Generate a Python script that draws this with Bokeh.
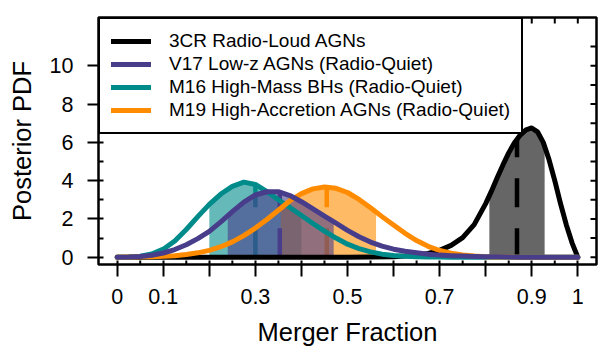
import numpy as np
from bokeh.plotting import figure
from bokeh.models import Range1d, FixedTicker, Legend, LegendItem
from bokeh.embed import file_html
from bokeh.resources import INLINE

# ---------------- data ----------------
x_grid = [0.000, 0.025, 0.050, 0.075, 0.100, 0.125, 0.150, 0.175, 0.200, 0.225,
          0.250, 0.275, 0.300, 0.325, 0.350, 0.375, 0.400, 0.425, 0.450, 0.475,
          0.500, 0.525, 0.550, 0.575, 0.600, 0.625, 0.650, 0.675, 0.700, 0.725,
          0.750, 0.775, 0.800, 0.825, 0.850, 0.875, 0.900, 0.925, 0.950, 0.975, 1.000]

teal_pdf = [0.00, 0.01, 0.05, 0.17, 0.42, 0.85, 1.45, 2.12, 2.76, 3.30,
            3.70, 3.92, 3.80, 3.43, 3.00, 2.60, 2.18, 1.76, 1.36, 1.00,
            0.68, 0.45, 0.28, 0.16, 0.09, 0.05, 0.03, 0.015, 0.008, 0.004,
            0.0, 0.0, 0.0, 0.0, 0.0, 0.0, 0.0, 0.0, 0.0, 0.0, 0.0]

purple_pdf = [0.00, 0.01, 0.04, 0.10, 0.22, 0.40, 0.65, 0.97, 1.35, 1.85,
              2.38, 2.88, 3.25, 3.42, 3.42, 3.22, 2.90, 2.52, 2.15, 1.78,
              1.40, 1.07, 0.79, 0.58, 0.42, 0.31, 0.23, 0.16, 0.11, 0.08,
              0.06, 0.04, 0.03, 0.02, 0.01, 0.005, 0.0, 0.0, 0.0, 0.0, 0.0]

orange_pdf = [0.00, 0.01, 0.02, 0.03, 0.05, 0.08, 0.14, 0.23, 0.36, 0.55,
              0.80, 1.13, 1.52, 1.97, 2.45, 2.95, 3.32, 3.57, 3.67, 3.60,
              3.38, 3.02, 2.58, 2.12, 1.68, 1.25, 0.87, 0.57, 0.35, 0.21,
              0.12, 0.06, 0.03, 0.015, 0.008, 0.004, 0.0, 0.0, 0.0, 0.0, 0.0]

black_x = [0.0, 0.1, 0.2, 0.3, 0.4, 0.5, 0.55, 0.6, 0.625, 0.65, 0.675, 0.7, 0.725,
           0.75, 0.775, 0.8, 0.8125, 0.825, 0.8375, 0.85, 0.8625, 0.875, 0.8875,
           0.9, 0.9125, 0.925, 0.9375, 0.95, 0.9625, 0.975, 0.9875, 1.0]
black_pdf = [0.0, 0.0, 0.0, 0.0, 0.0, 0.002, 0.008, 0.03, 0.06, 0.11, 0.2, 0.36, 0.62,
             1.02, 1.7, 2.8, 3.45, 4.15, 4.82, 5.45, 5.98, 6.38, 6.65,
             6.75, 6.55, 6.0, 5.1, 4.0, 2.8, 1.7, 0.75, 0.0]

labels = ["3CR Radio-Loud AGNs", "V17 Low-z AGNs (Radio-Quiet)",
          "M16 High-Mass BHs (Radio-Quiet)", "M19 High-Accretion AGNs (Radio-Quiet)"]
medians = {"black": 0.868, "purple": 0.353, "teal": 0.300, "orange": 0.455}
intervals = {"black": (0.808, 0.928), "purple": (0.240, 0.470),
             "teal": (0.200, 0.400), "orange": (0.355, 0.562)}

# tick positions / labels
xtick_vals = [0.0, 0.1, 0.3, 0.5, 0.7, 0.9, 1.0]
xtick_labels = ["0", "0.1", "0.3", "0.5", "0.7", "0.9", "1"]
xtick_unlabeled = [0.2, 0.4, 0.6, 0.8]
xinner_vals = [0.05, 0.15, 0.25, 0.35, 0.45, 0.55, 0.65, 0.75, 0.85, 0.95]
ytick_vals = [0, 2, 4, 6, 8, 10]
yminor_vals = [1, 3, 5, 7, 9, 11]
yright_vals = [0, 1, 2, 3, 4, 5, 6, 7, 8, 9, 10, 11]
xtop_vals = [0.0, 0.05, 0.1, 0.15, 0.2, 0.25, 0.3, 0.35, 0.4, 0.45, 0.5,
             0.55, 0.6, 0.65, 0.7, 0.75, 0.8, 0.85, 0.9, 0.95, 1.0]

colors = {"black": "#000000", "purple": "#483D8B", "teal": "#008B8B", "orange": "#FF8C00"}
series = {
    "black": (black_x, black_pdf),
    "purple": (x_grid, purple_pdf),
    "teal": (x_grid, teal_pdf),
    "orange": (x_grid, orange_pdf),
}

FONT = "Liberation Sans"
X0, X1 = -0.0406, 1.0406
Y0, Y1 = -0.38, 12.52

p = figure(width=604, height=352, output_backend="svg", toolbar_location=None,
           x_range=Range1d(X0, X1), y_range=Range1d(Y0, Y1),
           min_border_left=98, min_border_right=8, min_border_top=17, min_border_bottom=88,
           x_axis_label="Merger Fraction", y_axis_label="Posterior PDF")
p.xgrid.visible = False
p.ygrid.visible = False
p.outline_line_color = "black"
p.outline_line_width = 2.5
p.outline_line_alpha = 1.0
p.background_fill_color = "white"
p.border_fill_color = "white"

# shades + medians
for key in ["black", "teal", "orange", "purple"]:
    xs, ys = np.array(series[key][0]), np.array(series[key][1])
    lo, hi = intervals[key]
    inner = xs[(xs > lo) & (xs < hi)]
    fx = np.concatenate([[lo], inner, [hi]])
    fy = np.interp(fx, xs, ys)
    p.varea(x=fx, y1=np.zeros_like(fx), y2=fy, fill_color=colors[key], fill_alpha=0.6)
    m = medians[key]
    p.segment(x0=[m], y0=[0], x1=[m], y1=[float(np.interp(m, xs, ys))],
              line_color=colors[key], line_width=4.5, line_dash="29 21")

renderers = {}
for key in ["black", "teal", "orange", "purple"]:
    xs, ys = series[key]
    renderers[key] = p.line(xs, ys, line_color=colors[key], line_width=5,
                            line_cap="round", line_join="round")

# inward tick marks on the frame edges (half of each dash is clipped by the frame)
p.scatter(x=xinner_vals, y=[Y0] * len(xinner_vals), marker="dash", size=8, angle=np.pi / 2,
          line_color="black", line_width=2)
p.scatter(x=xtop_vals, y=[Y1] * len(xtop_vals), marker="dash", size=12, angle=np.pi / 2,
          line_color="black", line_width=2)
p.scatter(x=[X1] * len(yright_vals), y=yright_vals, marker="dash", size=12,
          line_color="black", line_width=2)

legend = Legend(items=[
    LegendItem(label=labels[0], renderers=[renderers["black"]]),
    LegendItem(label=labels[1], renderers=[renderers["purple"]]),
    LegendItem(label=labels[2], renderers=[renderers["teal"]]),
    LegendItem(label=labels[3], renderers=[renderers["orange"]]),
], location="top_left", margin=0, padding=11, spacing=1,
    glyph_width=40, glyph_height=22, label_height=22, label_standoff=18,
    label_text_font=FONT, label_text_font_size="19px", label_text_color="black",
    border_line_color="black", border_line_width=2.5, border_line_alpha=1.0,
    background_fill_color="white", background_fill_alpha=1.0)
p.add_layout(legend)

# bottom axis
xa = p.xaxis[0]
xa.ticker = FixedTicker(ticks=xtick_vals, minor_ticks=xtick_unlabeled)
xa.major_label_overrides = {v: l for v, l in zip(xtick_vals, xtick_labels)}
xa.axis_line_color = None
xa.major_tick_in = 4
xa.major_tick_out = 12
xa.major_tick_line_width = 2
xa.minor_tick_in = 4
xa.minor_tick_out = 12
xa.minor_tick_line_width = 2
xa.major_label_text_font = FONT
xa.major_label_text_font_size = "21.5px"
xa.major_label_text_color = "black"
xa.major_label_standoff = 12
xa.axis_label_text_font = FONT
xa.axis_label_text_font_size = "25.5px"
xa.axis_label_text_font_style = "normal"
xa.axis_label_text_color = "black"
xa.axis_label_standoff = 11

# left axis
ya = p.yaxis[0]
ya.ticker = FixedTicker(ticks=ytick_vals, minor_ticks=yminor_vals)
ya.axis_line_color = None
ya.major_tick_in = 5
ya.major_tick_out = 11
ya.major_tick_line_width = 2
ya.minor_tick_in = 5
ya.minor_tick_out = 0
ya.minor_tick_line_width = 2
ya.major_label_text_font = FONT
ya.major_label_text_font_size = "21.5px"
ya.major_label_text_color = "black"
ya.major_label_standoff = 14
ya.axis_label_text_font = FONT
ya.axis_label_text_font_size = "25.5px"
ya.axis_label_text_font_style = "normal"
ya.axis_label_text_color = "black"
ya.axis_label_standoff = 11

open("out.html", "w").write(file_html(p, INLINE))
